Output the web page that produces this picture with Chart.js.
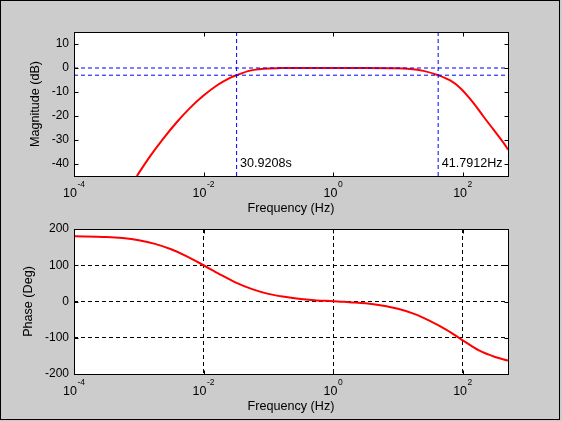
<!DOCTYPE html>
<html>
<head>
<meta charset="utf-8">
<script src="https://cdn.jsdelivr.net/npm/chart.js@4.4.1/dist/chart.umd.min.js"></script>
<style>
html,body{margin:0;padding:0;background:#cccccc;width:562px;height:421px;overflow:hidden;}
#frame{position:absolute;left:0;top:0;width:560px;height:420px;box-sizing:border-box;border:1px solid #000;}
canvas{position:absolute;left:0;}
#c1{top:0;width:562px;height:216px;}
#c2{top:216px;width:562px;height:198px;}
</style>
</head>
<body>
<div id="frame"></div>
<canvas id="c1" width="562" height="216"></canvas>
<canvas id="c2" width="562" height="198"></canvas>
<script>
// ---------------- data ----------------
const xMin = 1e-4, xMax = 500;
const xTicks = [1e-4, 1e-2, 1, 100];
const xTickExp = ['-4', '-2', '0', '2'];

const magMin = -45, magMax = 15;
const magTicks = [10, 0, -10, -20, -30, -40];
const phaseMin = -200, phaseMax = 200;
const phaseTicks = [200, 100, 0, -100, -200];

const magFreq = [9.33e-4, 1.49e-3, 2.39e-3, 3.85e-3, 6.19e-3, 0.01, 0.016, 0.0256, 0.0323, 0.0522, 0.084, 0.15, 0.316, 1, 3.16, 7.59, 15.5, 24.8, 41.8, 64.1, 91.4, 147, 209, 299, 427, 500];
const magDb   = [-45, -36.8, -29.4, -22.6, -16.6, -11.5, -7.3, -4.1, -3.0, -1.1, -0.3, -0.05, 0, 0, 0, -0.1, -0.4, -1.2, -3.0, -5.2, -8.3, -14.6, -20.2, -25.7, -31.2, -34];

const phaseFreq = [1e-4, 3.16e-4, 5.62e-4, 1e-3, 1.78e-3, 3.16e-3, 5.62e-3, 0.01, 0.0178, 0.0316, 0.0562, 0.1, 0.178, 0.316, 0.562, 1, 1.78, 3.16, 5.62, 10, 17.8, 31.6, 56.2, 100, 178, 316, 500];
const phaseDeg  = [180, 178, 175, 169, 159, 144, 124, 100, 75, 52, 34, 21, 13, 7, 3, 1, -2, -5, -11, -20, -34, -54, -78, -107, -135, -153, -163];

const cutLow = 0.03234;      // 1 / 30.9208 s
const cutHigh = 41.7912;     // Hz
const refLevels = [0, -3];   // dB
const cutLabels = ['30.9208s', '41.7912Hz'];
const labelLevel = -40;      // dB

// ---------------- style ----------------
const FONT = "'Liberation Sans', Arial, Helvetica, sans-serif";
const DASH = [4, 3];

const pts = (xs, ys) => xs.map((v, i) => ({x: v, y: ys[i]}));

const axesPlugin = {
  id: 'matlabAxes',
  beforeDraw(chart) {
    const a = chart.chartArea, c = chart.ctx;
    c.save();
    c.fillStyle = '#ffffff';
    c.fillRect(a.left, a.top, a.right - a.left, a.bottom - a.top);
    c.restore();
  },
  afterDraw(chart, args, opts) {
    const c = chart.ctx, a = chart.chartArea, x = chart.scales.x, y = chart.scales.y;
    c.save();
    c.setLineDash([]);
    c.strokeStyle = '#000';
    c.lineWidth = 1;
    const L = Math.round(a.left) + 0.5, R = Math.round(a.right) + 0.5;
    const T = Math.round(a.top) + 0.5, B = Math.round(a.bottom) + 0.5;
    c.strokeRect(L, T, R - L, B - T);
    c.beginPath();
    x.ticks.forEach(t => {
      const px = Math.round(x.getPixelForValue(t.value)) + 0.5;
      c.moveTo(px, B); c.lineTo(px, B - 4);
      c.moveTo(px, T); c.lineTo(px, T + 4);
    });
    y.ticks.forEach(t => {
      const py = Math.round(y.getPixelForValue(t.value)) + 0.5;
      c.moveTo(L, py); c.lineTo(L + 4, py);
      c.moveTo(R, py); c.lineTo(R - 4, py);
    });
    c.stroke();
    // x tick labels 10^n
    c.fillStyle = '#000';
    c.textAlign = 'left';
    c.textBaseline = 'alphabetic';
    x.ticks.forEach((t, i) => {
      const px = x.getPixelForValue(t.value);
      c.font = '12.5px ' + FONT;
      const w1 = c.measureText('10').width;
      c.font = '8.5px ' + FONT;
      const w2 = c.measureText(xTickExp[i]).width;
      const start = px - (w1 + w2 + 0.5) / 2;
      c.font = '12.5px ' + FONT;
      c.fillText('10', start, a.bottom + 21);
      c.font = '8.5px ' + FONT;
      c.fillText(xTickExp[i], start + w1 + 0.5, a.bottom + 11);
    });
    // annotations
    (opts.notes || []).forEach(n => {
      c.font = '12.6px ' + FONT;
      c.textBaseline = 'middle';
      c.fillText(n.text, x.getPixelForValue(n.x) + 3.5, y.getPixelForValue(n.y));
    });
    c.restore();
  }
};

function xScale(gridOn, dash) {
  return {
    type: 'logarithmic', min: xMin, max: xMax, bounds: 'data',
    afterBuildTicks: s => { s.ticks = xTicks.map(v => ({value: v})); },
    afterFit: s => { s.height = 40; },
    ticks: {display: false},
    grid: {display: gridOn, color: '#000', lineWidth: 1, drawTicks: false},
    border: {display: false, dash: dash},
    title: {display: true, text: 'Frequency (Hz)', color: '#000', font: {family: FONT, size: 12.6}, padding: {top: 0, bottom: 0}}
  };
}
function yScale(min, max, tickVals, label, titlePad, gridOn, dash) {
  return {
    type: 'linear', min: min, max: max, bounds: 'data',
    afterBuildTicks: s => { s.ticks = tickVals.map(v => ({value: v})); },
    afterFit: s => { s.width = 74; },
    ticks: {color: '#000', font: {family: FONT, size: 12}, padding: 5},
    grid: {display: gridOn, color: '#000', lineWidth: 1, drawTicks: false},
    border: {display: false, dash: dash},
    title: {display: true, text: label, color: '#000', font: {family: FONT, size: 12.6}, padding: {top: titlePad, bottom: 0}}
  };
}

const commonOpts = {
  responsive: false,
  animation: false,
  events: [],
  plugins: {legend: {display: false}, tooltip: {enabled: false}}
};

// ---------------- magnitude ----------------
new Chart(document.getElementById('c1'), {
  type: 'line',
  data: {
    datasets: [
      {data: pts([cutLow, cutLow], [magMin, magMax]), borderColor: '#0000ff', borderWidth: 1, borderDash: DASH, pointRadius: 0, tension: 0},
      {data: pts([cutHigh, cutHigh], [magMin, magMax]), borderColor: '#0000ff', borderWidth: 1, borderDash: DASH, pointRadius: 0, tension: 0},
      {data: pts([xMin, xMax], [refLevels[0], refLevels[0]]), borderColor: '#0000ff', borderWidth: 1, borderDash: DASH, pointRadius: 0, tension: 0},
      {data: pts([xMin, xMax], [refLevels[1], refLevels[1]]), borderColor: '#0000ff', borderWidth: 1, borderDash: DASH, pointRadius: 0, tension: 0},
      {data: pts(magFreq, magDb), borderColor: '#ff0000', borderWidth: 2, pointRadius: 0, cubicInterpolationMode: 'monotone', clip: 0}
    ]
  },
  options: Object.assign({}, commonOpts, {
    layout: {padding: {left: 0, top: 32, right: 54, bottom: 0}},
    scales: {
      x: xScale(false, []),
      y: yScale(magMin, magMax, magTicks, 'Magnitude (dB)', 28.3, false, [])
    },
    plugins: Object.assign({}, commonOpts.plugins, {
      matlabAxes: {notes: [{x: cutLow, y: labelLevel, text: cutLabels[0]}, {x: cutHigh, y: labelLevel, text: cutLabels[1]}]}
    })
  }),
  plugins: [axesPlugin]
});

// ---------------- phase ----------------
new Chart(document.getElementById('c2'), {
  type: 'line',
  data: {
    datasets: [
      {data: pts(phaseFreq, phaseDeg), borderColor: '#ff0000', borderWidth: 2, pointRadius: 0, cubicInterpolationMode: 'monotone', clip: 0}
    ]
  },
  options: Object.assign({}, commonOpts, {
    layout: {padding: {left: 0, top: 13, right: 54, bottom: 0}},
    scales: {
      x: xScale(true, DASH),
      y: yScale(phaseMin, phaseMax, phaseTicks, 'Phase (Deg)', 20.6, true, DASH)
    },
    plugins: Object.assign({}, commonOpts.plugins, {matlabAxes: {notes: []}})
  }),
  plugins: [axesPlugin]
});
</script>
</body>
</html>
